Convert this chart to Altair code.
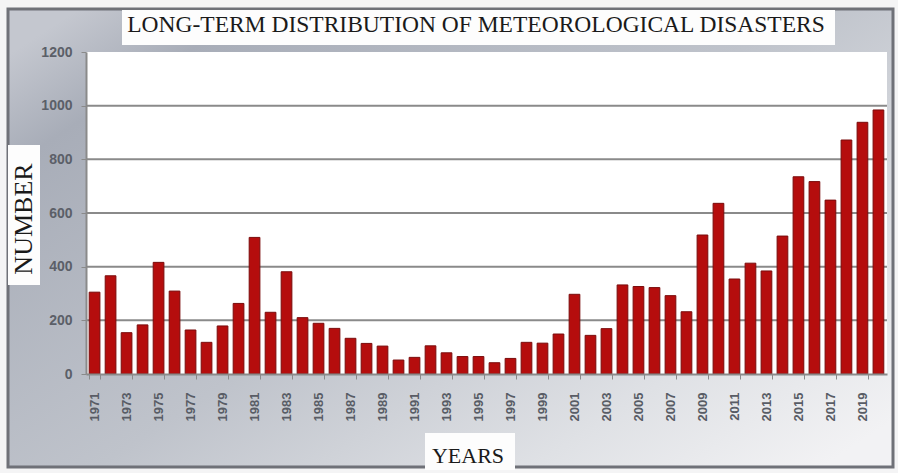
import altair as alt
import pandas as pd

# Annual count of meteorological disasters, 1971-2020
years = [str(y) for y in range(1971, 2021)]
counts = [
    305, 366, 154, 183, 416, 309, 164, 118, 179, 263,
    509, 230, 381, 210, 189, 170, 133, 114, 104, 52,
    62, 105, 79, 65, 65, 42, 58, 118, 115, 149,
    297, 144, 169, 332, 326, 322, 292, 232, 518, 636,
    354, 413, 384, 514, 735, 717, 648, 872, 938, 984,
]
year_labels = [str(y) for y in range(1971, 2021, 2)]
y_ticks = [0, 200, 400, 600, 800, 1000, 1200]
grid_values = [200, 400, 600, 800, 1000]

title_text = "LONG-TERM DISTRIBUTION OF METEOROLOGICAL DISASTERS"
y_title = "NUMBER"
x_title = "YEARS"

W, H = 801, 322

df = pd.DataFrame({"year": years, "count": counts})
one = alt.Data(values=[{"k": 0}])
grid_df = pd.DataFrame({"v": grid_values})

x_enc = alt.X(
    "year:O",
    scale=alt.Scale(paddingInner=0.33, paddingOuter=0.2),
    axis=alt.Axis(
        title=None, values=year_labels, labelAngle=-90,
        labelFont="Liberation Sans", labelFontSize=13, labelColor="#585c65",
        labelFontWeight="bold", labelPadding=13,
        tickBand="extent", tickSize=5, tickColor="#8a8a8a",
        domainColor="#8a8a8a", domainWidth=2, grid=False, zindex=1,
    ),
)
y_scale = alt.Scale(domain=[0, 1200], nice=False)
y_enc = alt.Y(
    "count:Q", scale=y_scale,
    axis=alt.Axis(
        title=None, values=y_ticks, format="d", labelFont="Liberation Sans",
        labelFontSize=14, labelColor="#5b5f68", labelFontWeight="bold",
        labelPadding=9, tickSize=5, tickColor="#8a8a8a",
        domainColor="#8a8a8a", domainWidth=2, grid=False, zindex=1,
    ),
)

# page and metallic frame
page = alt.Chart(one).mark_rect(fill="#f4f4f5").encode(
    x=alt.value(-86), x2=alt.value(812), y=alt.value(-52), y2=alt.value(421)
)
frame = alt.Chart(one).mark_rect(
    fill=alt.LinearGradient(
        gradient="linear", x1=0, y1=0.1, x2=1, y2=0.9,
        stops=[
            alt.GradientStop(offset=0, color="#c4c7cf"),
            alt.GradientStop(offset=0.12, color="#a8adb8"),
            alt.GradientStop(offset=0.5, color="#bfc3cb"),
            alt.GradientStop(offset=0.8, color="#dfe1e5"),
            alt.GradientStop(offset=1, color="#f2f2f4"),
        ],
    ),
    stroke="#6f7178", strokeWidth=3,
).encode(x=alt.value(-78), x2=alt.value(807), y=alt.value(-43), y2=alt.value(415))

plot_bg = alt.Chart(one).mark_rect(fill="#ffffff").encode(
    x=alt.value(0), x2=alt.value(W), y=alt.value(0), y2=alt.value(H)
)

grid = alt.Chart(grid_df).mark_rule(color="#8a8a8a", strokeWidth=2).encode(
    y=alt.Y("v:Q", scale=y_scale), x=alt.value(0), x2=alt.value(W)
)

bars = alt.Chart(df).mark_bar(
    fill="#b50d0d", stroke="#7a0c0c", strokeWidth=1
).encode(x=x_enc, y=y_enc)

# captions on white boxes
box_style = dict(fill="#fdfdfd")
title_box = alt.Chart(one).mark_rect(**box_style).encode(
    x=alt.value(36), x2=alt.value(749), y=alt.value(-42), y2=alt.value(-7)
)
title_lbl = alt.Chart(one).mark_text(
    font="Liberation Serif", fontSize=23.5, color="#1a1a1a", baseline="alphabetic"
).encode(x=alt.value(390), y=alt.value(-20), text=alt.value(title_text))

ybox = alt.Chart(one).mark_rect(**box_style).encode(
    x=alt.value(-78), x2=alt.value(-46), y=alt.value(93), y2=alt.value(233)
)
ylbl = alt.Chart(one).mark_text(
    font="Liberation Serif", fontSize=26, color="#1a1a1a", angle=270,
    baseline="middle", align="center",
).encode(x=alt.value(-62), y=alt.value(167), text=alt.value(y_title))

xbox = alt.Chart(one).mark_rect(**box_style).encode(
    x=alt.value(339), x2=alt.value(429), y=alt.value(381), y2=alt.value(418)
)
xlbl = alt.Chart(one).mark_text(
    font="Liberation Serif", fontSize=22, color="#1a1a1a", baseline="alphabetic"
).encode(x=alt.value(382), y=alt.value(411), text=alt.value(x_title))

chart = alt.layer(
    page, frame, plot_bg, grid, bars, title_box, title_lbl, ybox, ylbl, xbox, xlbl
).properties(
    width=W, height=H, padding=0, background="#f4f4f5"
).configure_view(stroke=None)

chart.save("out.html", embed_options={"renderer": "svg", "actions": False})
